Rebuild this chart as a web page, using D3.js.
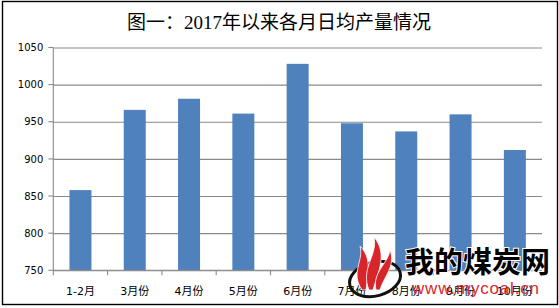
<!DOCTYPE html>
<html>
<head>
<meta charset="utf-8">
<script src="https://cdn.jsdelivr.net/npm/d3@7"></script>
<style>
  body { margin: 0; background: #fff; }
  svg { display: block; }
</style>
</head>
<body>
<svg id="chart" width="559" height="308"></svg>
<script>
var months = ["1-2月", "3月份", "4月份", "5月份", "6月份", "7月份", "8月份", "9月份", "10月份"];
var output = [858, 966, 981, 961, 1028, 948, 937, 960, 912];
var yTicks = [750, 800, 850, 900, 950, 1000, 1050];
var title = "图一：2017年以来各月日均产量情况";

var svg = d3.select("#chart");
var margin = { top: 47.5, right: 17, bottom: 37.7, left: 53.3 },
    width = 559 - margin.left - margin.right,
    height = 308 - margin.top - margin.bottom;

// outer frame
svg.append("rect")
  .attr("x", 2.5).attr("y", 1.5)
  .attr("width", 555).attr("height", 303)
  .attr("fill", "#fff")
  .attr("stroke", "#000")
  .attr("stroke-width", 1.4);

svg.append("text")
  .attr("x", 279)
  .attr("y", 29)
  .attr("text-anchor", "middle")
  .style("font-family", "'Liberation Serif', 'Noto Sans CJK SC', serif")
  .style("font-size", "19px")
  .style("fill", "#000")
  .text(title);

var g = svg.append("g")
  .attr("transform", "translate(" + margin.left + "," + margin.top + ")");

var y = d3.scaleLinear()
  .domain([750, 1050])
  .range([height, 0]);

var x = d3.scaleBand()
  .domain(months)
  .range([0, width])
  .padding(0);

var xBar = d3.scaleBand()
  .domain(months)
  .range([0, width])
  .paddingInner(0.595)
  .paddingOuter(0.2975);

// grid lines + y axis
g.append("g")
  .call(d3.axisLeft(y).tickValues(yTicks).tickFormat(d3.format("d"))
    .tickSize(-width).tickSizeOuter(0).tickPadding(10))
  .call(s => s.select(".domain").remove())
  .call(s => s.selectAll(".tick line").attr("stroke", "#898989").attr("stroke-width", 1.1))
  .call(s => s.selectAll(".tick text")
    .style("font-family", "'DejaVu Sans', sans-serif")
    .style("font-size", "10px")
    .attr("fill", "#000"));

// little ticks left of the y axis
g.append("g")
  .selectAll("line")
  .data(yTicks)
  .join("line")
  .attr("x1", -5).attr("x2", 0)
  .attr("y1", d => y(d)).attr("y2", d => y(d))
  .attr("stroke", "#898989")
  .attr("stroke-width", 1.1);

g.append("line")
  .attr("x1", 0).attr("x2", 0)
  .attr("y1", 0).attr("y2", height)
  .attr("stroke", "#898989")
  .attr("stroke-width", 1.1);

// bars
g.selectAll("rect.bar")
  .data(output)
  .join("rect")
  .attr("class", "bar")
  .attr("x", (d, i) => xBar(months[i]))
  .attr("width", xBar.bandwidth())
  .attr("y", d => y(d))
  .attr("height", d => height - y(d))
  .attr("fill", "#4F81BD");

// x axis line, category boundary ticks and labels
g.append("line")
  .attr("x1", 0).attr("x2", width)
  .attr("y1", height).attr("y2", height)
  .attr("stroke", "#898989")
  .attr("stroke-width", 1.1);

g.append("g")
  .selectAll("line")
  .data(months)
  .join("line")
  .attr("x1", d => x(d)).attr("x2", d => x(d))
  .attr("y1", height).attr("y2", height + 5)
  .attr("stroke", "#898989")
  .attr("stroke-width", 1.1);

g.append("g")
  .selectAll("text")
  .data(months)
  .join("text")
  .attr("x", d => x(d) + x.bandwidth() / 2)
  .attr("y", height + 25)
  .attr("text-anchor", "middle")
  .style("font-family", "'DejaVu Sans', 'Noto Sans CJK SC', sans-serif")
  .style("font-size", "11px")
  .attr("fill", "#000")
  .text(d => d);

// watermark
var wm = svg.append("g");
wm.append("ellipse")
  .attr("cx", 375).attr("cy", 279)
  .attr("rx", 26).attr("ry", 17)
  .attr("fill", "none")
  .attr("stroke", "#111")
  .attr("stroke-width", 3)
  .attr("transform", "rotate(-15,375,279)");
var flames = [
  "M362,290 C350,272 364,262 360,246 C372,258 368,272 366,290 Z",
  "M369,290 C360,268 378,256 374,237 C388,254 378,272 373,290 Z",
  "M376,290 C372,272 388,264 390,250 C396,266 384,276 380,290 Z"
];
wm.selectAll("path")
  .data(flames)
  .join("path")
  .attr("d", d => d)
  .attr("fill", "#d7252a")
  .attr("stroke", "#fff")
  .attr("stroke-width", 0.8);
wm.append("text")
  .attr("x", 405).attr("y", 273)
  .style("font-family", "'Noto Sans CJK SC', sans-serif")
  .style("font-size", "29px")
  .style("font-weight", "bold")
  .attr("fill", "#000")
  .attr("stroke", "#fff")
  .attr("stroke-width", 2)
  .attr("paint-order", "stroke")
  .text("我的煤炭网");
wm.append("text")
  .attr("x", 412).attr("y", 294)
  .attr("textLength", 127)
  .style("font-family", "'Liberation Sans', sans-serif")
  .style("font-size", "17px")
  .attr("fill", "#e0262b")
  .text("www.mycoal.cn");
</script>
</body>
</html>
